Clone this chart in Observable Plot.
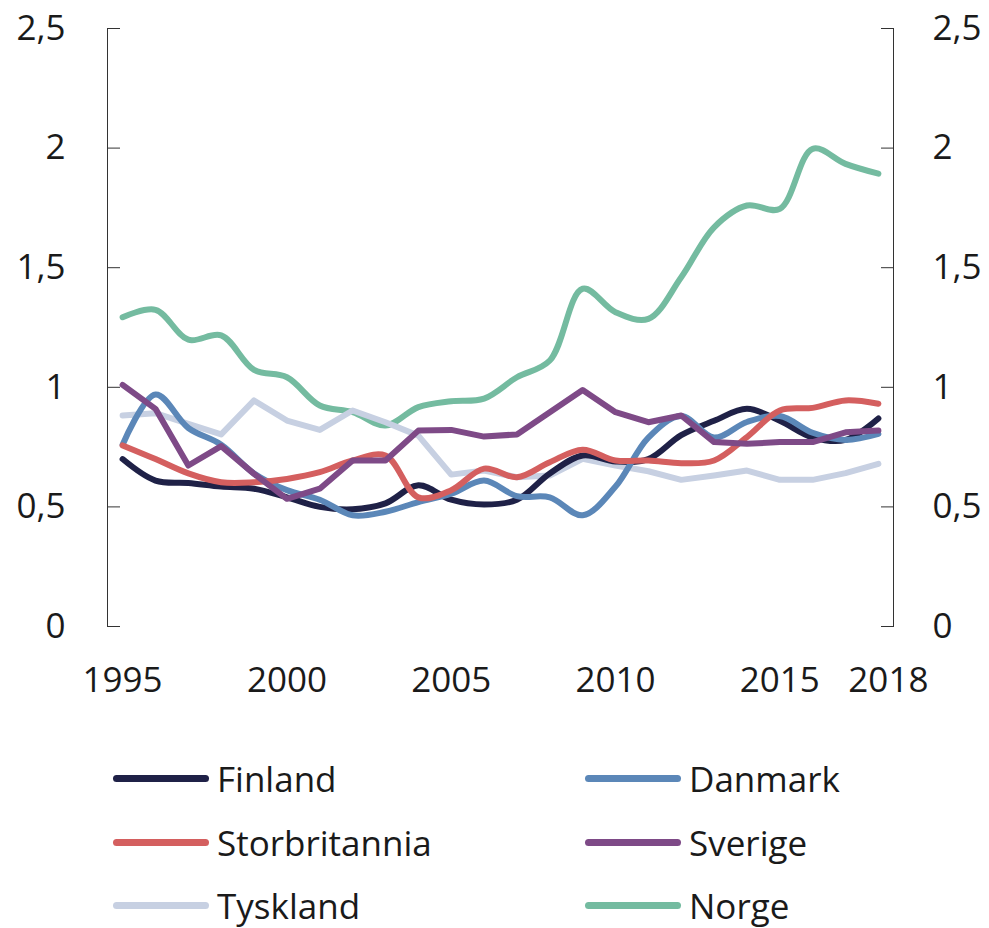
<!DOCTYPE html>
<html>
<head>
<meta charset="utf-8">
<script src="https://cdn.jsdelivr.net/npm/d3@7"></script>
<script src="https://cdn.jsdelivr.net/npm/@observablehq/plot@0.6"></script>
<style>
  html, body { margin: 0; padding: 0; background: #fff; }
  #wrap { position: relative; width: 989px; height: 928px; font-family: "Open Sans", sans-serif; color: #1a1a1a; }
  #legend { position: absolute; left: 113px; top: 747px; display: grid; grid-template-columns: 472px auto; grid-auto-rows: 63.5px; }
  .item { display: flex; align-items: center; font-size: 35px; line-height: 1; }
  .sw { display: inline-block; width: 96px; height: 7px; border-radius: 3.5px; margin-right: 8px; }
</style>
</head>
<body>
<div id="wrap"><div id="chart"></div><div id="legend"></div></div>
<script>
const years = [1995,1996,1997,1998,1999,2000,2001,2002,2003,2004,2005,2006,2007,2008,2009,2010,2011,2012,2013,2014,2015,2016,2017,2018];
const finland = [0.70,0.61,0.60,0.585,0.576,0.54,0.50,0.49,0.515,0.59,0.53,0.51,0.53,0.64,0.715,0.69,0.70,0.80,0.86,0.91,0.86,0.79,0.78,0.87];
const danmark = [0.76,0.97,0.83,0.76,0.64,0.57,0.53,0.465,0.48,0.52,0.555,0.61,0.545,0.54,0.465,0.585,0.79,0.88,0.79,0.855,0.88,0.81,0.78,0.805];
const storbritannia = [0.757,0.70,0.64,0.603,0.603,0.617,0.645,0.694,0.715,0.54,0.57,0.66,0.624,0.687,0.739,0.694,0.694,0.683,0.694,0.792,0.903,0.914,0.945,0.931];
const sverige = [1.01,0.91,0.673,0.754,0.638,0.534,0.576,0.694,0.694,0.819,0.822,0.794,0.803,0.896,0.989,0.896,0.854,0.882,0.771,0.764,0.771,0.771,0.812,0.819];
const tyskland = [0.882,0.892,0.847,0.803,0.945,0.861,0.822,0.903,0.854,0.798,0.635,0.652,0.624,0.631,0.701,0.673,0.649,0.613,0.631,0.652,0.613,0.613,0.641,0.680];
const norge = [1.293,1.324,1.199,1.217,1.073,1.042,0.924,0.896,0.840,0.917,0.942,0.953,1.042,1.112,1.412,1.314,1.286,1.460,1.669,1.760,1.746,1.997,1.934,1.893];

const seriesNames = ["Finland","Danmark","Storbritannia","Sverige","Tyskland","Norge"];
const seriesColors = ["#1f2147","#5b87b8","#d45f5f","#7e4a87","#c7d0e2","#74bba0"];
const seriesValues = [finland, danmark, storbritannia, sverige, tyskland, norge];
const smoothSeries = ["Finland","Danmark","Storbritannia","Norge"];
const drawOrder = ["Norge","Tyskland","Finland","Danmark","Storbritannia","Sverige"];

const yTicks = [0, 0.5, 1, 1.5, 2, 2.5];
const xTicks = [1995, 2000, 2005, 2010, 2015];
const xTickLast = [2018];
const xDomain = [1994.54, 2018.46];

const rows = [];
drawOrder.forEach(name => {
  const i = seriesNames.indexOf(name);
  years.forEach((yr, j) => rows.push({country: name, year: yr, value: seriesValues[i][j]}));
});

const fmt = d => String(d).replace(".", ",");
const marks = [
  Plot.ruleX(xDomain, {y1: 0, y2: 2.5, stroke: "#333", strokeWidth: 1}),
  Plot.axisY(yTicks, {anchor: "left", label: null, tickSize: -13, tickPadding: 55, tickFormat: fmt, fontSize: 35, stroke: "#333"}),
  Plot.axisY(yTicks, {anchor: "right", label: null, tickSize: -13, tickPadding: 52, tickFormat: fmt, fontSize: 35, stroke: "#333"}),
  Plot.axisX(xTicks, {anchor: "bottom", label: null, tickSize: 0, tickPadding: 41, tickFormat: d => String(d), fontSize: 35}),
  Plot.axisX(xTickLast, {anchor: "bottom", label: null, tickSize: 0, tickPadding: 41, tickFormat: d => String(d), fontSize: 35, dx: 10})
];
drawOrder.forEach(name => {
  marks.push(Plot.line(rows.filter(r => r.country === name), {
    x: "year", y: "value", stroke: seriesColors[seriesNames.indexOf(name)],
    strokeWidth: 6, curve: smoothSeries.includes(name) ? "catmull-rom" : "linear",
    strokeLinecap: "round", strokeLinejoin: "round"
  }));
});

const chart = Plot.plot({
  width: 989, height: 720,
  marginLeft: 107, marginRight: 96, marginTop: 28, marginBottom: 94,
  x: {domain: xDomain, label: null},
  y: {domain: [0, 2.5], label: null},
  style: {fontFamily: "Open Sans, sans-serif", fontSize: "35px", color: "#1a1a1a", background: "white"},
  marks
});
document.getElementById("chart").appendChild(chart);

const legend = document.getElementById("legend");
seriesNames.forEach((name, i) => {
  const it = document.createElement("div");
  it.className = "item";
  const sw = document.createElement("span");
  sw.className = "sw";
  sw.style.background = seriesColors[i];
  const tx = document.createElement("span");
  tx.textContent = name;
  it.appendChild(sw); it.appendChild(tx);
  legend.appendChild(it);
});
</script>
</body>
</html>
